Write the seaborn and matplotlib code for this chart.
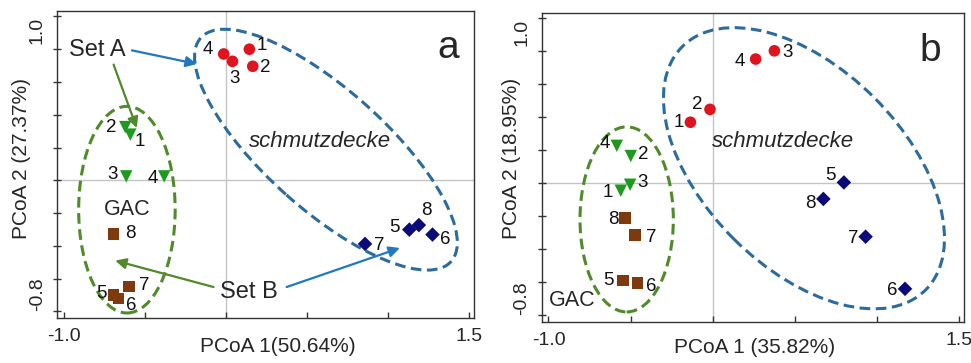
import matplotlib
matplotlib.use("Agg")
import numpy as np
import pandas as pd
import matplotlib.pyplot as plt
import seaborn as sns
from matplotlib.patches import Ellipse
from matplotlib.ticker import FixedLocator

sns.set_theme(style="white")
plt.rcParams["font.family"] = ["Liberation Sans", "DejaVu Sans"]

# ---------------- data: panel a ----------------
a_sdA_lbl = ["1", "2", "3", "4"]
a_sdA_x = [0.145, 0.166, 0.041, -0.013]
a_sdA_y = [0.800, 0.696, 0.726, 0.771]

a_gacA_lbl = ["1", "2", "3", "4"]
a_gacA_x = [-0.589, -0.620, -0.614, -0.380]
a_gacA_y = [0.279, 0.325, 0.024, 0.024]

a_gacB_lbl = ["5", "6", "7", "8"]
a_gacB_x = [-0.692, -0.661, -0.596, -0.692]
a_gacB_y = [-0.698, -0.722, -0.647, -0.327]

a_sdB_lbl = ["5", "6", "7", "8"]
a_sdB_x = [1.131, 1.274, 0.858, 1.190]
a_sdB_y = [-0.301, -0.331, -0.388, -0.273]

# ---------------- data: panel b ----------------
b_sdA_lbl = ["1", "2", "3", "4"]
b_sdA_x = [-0.136, -0.017, 0.375, 0.261]
b_sdA_y = [0.371, 0.449, 0.804, 0.754]

b_gacA_lbl = ["1", "2", "3", "4"]
b_gacA_x = [-0.560, -0.499, -0.503, -0.584]
b_gacA_y = [-0.044, 0.166, -0.008, 0.228]

b_gacB_lbl = ["5", "6", "7", "8"]
b_gacB_x = [-0.548, -0.457, -0.473, -0.534]
b_gacB_y = [-0.589, -0.603, -0.313, -0.208]

b_sdB_lbl = ["5", "6", "7", "8"]
b_sdB_x = [0.798, 1.170, 0.930, 0.673]
b_sdB_y = [0.006, -0.639, -0.323, -0.094]

x_tick_labels = ["-1.0", "1.5"]
y_tick_labels = ["-0.8", "1.0"]
a_xlabel = "PCoA 1(50.64%)"
a_ylabel = "PCoA 2 (27.37%)"
b_xlabel = "PCoA 1 (35.82%)"
b_ylabel = "PCoA 2 (18.95%)"

# ---------------- styles ----------------
groups = ["sdA", "gacA", "gacB", "sdB"]
palette = {"sdA": "#E0141E", "gacA": "#1E9A1E", "gacB": "#7E3A0E", "sdB": "#0A0A78"}
markers = {"sdA": "o", "gacA": "v", "gacB": "s", "sdB": "D"}
sizes = {"sdA": 70, "gacA": 80, "gacB": 70, "sdB": 55}
BLUE_EL = "#2C6BA0"
GREEN_EL = "#4F8A2B"
BLUE_AR = "#1F78C4"
GREEN_AR = "#4F8A2B"

# label offsets (pixels) per panel/group/label
a_offsets = {
    ("sdA", "1"): (12, 4), ("sdA", "2"): (12, -1), ("sdA", "3"): (2, -17), ("sdA", "4"): (-16, 4),
    ("gacA", "1"): (10, -7), ("gacA", "2"): (-14, 0), ("gacA", "3"): (-14, 2), ("gacA", "4"): (-11, -2),
    ("gacB", "5"): (-12, 1), ("gacB", "6"): (13, -7), ("gacB", "7"): (15, 1), ("gacB", "8"): (17, 0),
    ("sdB", "5"): (-15, 2), ("sdB", "6"): (13, -5), ("sdB", "7"): (14, -2), ("sdB", "8"): (8, 15),
}
b_offsets = {
    ("sdA", "1"): (-12, 0), ("sdA", "2"): (-13, 5), ("sdA", "3"): (13, -2), ("sdA", "4"): (-16, -2),
    ("gacA", "1"): (-13, -2), ("gacA", "2"): (12, 2), ("gacA", "3"): (12, 2), ("gacA", "4"): (-12, 2),
    ("gacB", "5"): (-14, 0), ("gacB", "6"): (14, -4), ("gacB", "7"): (16, -2), ("gacB", "8"): (-12, -2),
    ("sdB", "5"): (-13, 7), ("sdB", "6"): (-13, -2), ("sdB", "7"): (-12, -2), ("sdB", "8"): (-13, -5),
}


def make_df(sdA, gacA, gacB, sdB):
    rows = []
    for g, (lbl, xs, ys) in zip(groups, [sdA, gacA, gacB, sdB]):
        for l, x, y in zip(lbl, xs, ys):
            rows.append({"group": g, "label": l, "x": x, "y": y})
    return pd.DataFrame(rows)


df_a = make_df((a_sdA_lbl, a_sdA_x, a_sdA_y), (a_gacA_lbl, a_gacA_x, a_gacA_y),
               (a_gacB_lbl, a_gacB_x, a_gacB_y), (a_sdB_lbl, a_sdB_x, a_sdB_y))
df_b = make_df((b_sdA_lbl, b_sdA_x, b_sdA_y), (b_gacA_lbl, b_gacA_x, b_gacA_y),
               (b_gacB_lbl, b_gacB_x, b_gacB_y), (b_sdB_lbl, b_sdB_x, b_sdB_y))

fig = plt.figure(figsize=(9.71, 3.63), dpi=100)
ax_a = fig.add_axes([0.0587, 0.124, 0.4293, 0.8465])
ax_b = fig.add_axes([0.5579, 0.113, 0.4349, 0.852])


def style_axes(ax, df, offsets, xlabel, ylabel, xlab_pos, ylab_pos):
    ax.axhline(0, color="#c4c4c4", lw=1.0, zorder=0)
    ax.axvline(0, color="#c4c4c4", lw=1.0, zorder=0)
    for g in groups:
        sub = df[df.group == g]
        sns.scatterplot(data=sub, x="x", y="y", ax=ax, color=palette[g], marker=markers[g],
                        s=sizes[g], edgecolor="none", legend=False, zorder=3)
    for _, r in df.iterrows():
        dx, dy = offsets[(r.group, r.label)]
        ax.annotate(r.label, (r.x, r.y), xytext=(dx, dy), textcoords="offset pixels",
                    ha="center", va="center", fontsize=13.5, color="#111111", zorder=4)
    ax.set_xlim(-1.041, 1.529)
    ax.set_ylim(-0.84, 1.035)
    ax.xaxis.set_major_locator(FixedLocator([-1.0, 1.5]))
    ax.xaxis.set_minor_locator(FixedLocator([-0.5, 0.0, 0.5, 1.0]))
    ax.yaxis.set_major_locator(FixedLocator([-0.8, 1.0]))
    ax.yaxis.set_minor_locator(FixedLocator([-0.6, -0.4, -0.2, 0.0, 0.2, 0.4, 0.6, 0.8]))
    ax.set_xticklabels(x_tick_labels)
    ax.set_yticklabels(y_tick_labels, rotation=90)
    for lab, va in zip(ax.get_yticklabels(), ["bottom", "top"]):
        lab.set_va(va)
    ax.tick_params(axis="x", which="both", direction="in", length=4, width=1, color="#333333",
                   labelsize=14, pad=7, bottom=True)
    ax.tick_params(axis="y", which="both", direction="inout", length=6, width=1, color="#333333",
                   labelsize=14, pad=5, left=True)
    for s in ax.spines.values():
        s.set_color("#333333")
        s.set_linewidth(1.0)
    ax.set_xlabel(xlabel, fontsize=15, va="center")
    ax.set_ylabel(ylabel, fontsize=15, va="center")
    ax.xaxis.set_label_coords(xlab_pos[0], xlab_pos[1])
    ax.yaxis.set_label_coords(ylab_pos[0], ylab_pos[1])


style_axes(ax_a, df_a, a_offsets, a_xlabel, a_ylabel, (0.53, -0.094), (-0.084, 0.518))
style_axes(ax_b, df_b, b_offsets, b_xlabel, b_ylabel, (0.505, -0.081), (-0.071, 0.53))

# ---------------- panel a annotations ----------------
ax_a.add_patch(Ellipse((-0.610, -0.179), 0.595, 1.261, angle=0, fill=False,
                       ec=GREEN_EL, lw=2.2, ls=(0, (3.5, 1.8)), zorder=2))
ax_a.add_patch(Ellipse((0.617, 0.187), 2.06, 0.736, angle=-41.4, fill=False,
                       ec=BLUE_EL, lw=2.2, ls=(0, (3.5, 1.8)), zorder=2))
ax_a.text(1.371, 0.807, "a", fontsize=28, ha="center", va="center")
ax_a.text(0.58, 0.238, "schmutzdecke", fontsize=16, style="italic", ha="center", va="center")
ax_a.text(-0.606, -0.175, "GAC", fontsize=15.5, ha="center", va="center")
ax_a.text(-0.795, 0.797, "Set A", fontsize=17, ha="center", va="center")
ax_a.text(0.139, -0.683, "Set B", fontsize=17, ha="center", va="center")
arrow_kw = dict(arrowstyle="-|>", lw=1.6, mutation_scale=16, shrinkA=0, shrinkB=0)
ax_a.annotate("", xy=(-0.179, 0.71), xytext=(-0.579, 0.793),
              arrowprops=dict(color=BLUE_AR, **arrow_kw))
ax_a.annotate("", xy=(-0.549, 0.319), xytext=(-0.692, 0.706),
              arrowprops=dict(color=GREEN_AR, **arrow_kw))
ax_a.annotate("", xy=(-0.682, -0.490), xytext=(-0.076, -0.651),
              arrowprops=dict(color=GREEN_AR, **arrow_kw))
ax_a.annotate("", xy=(1.073, -0.413), xytext=(0.375, -0.651),
              arrowprops=dict(color=BLUE_AR, **arrow_kw))

# ---------------- panel b annotations ----------------
ax_b.add_patch(Ellipse((-0.524, -0.218), 0.568, 1.122, angle=0, fill=False,
                       ec=GREEN_EL, lw=2.2, ls=(0, (3.5, 1.8)), zorder=2))
ax_b.add_patch(Ellipse((0.555, 0.092), 2.09, 1.21, angle=-44.8, fill=False,
                       ec=BLUE_EL, lw=2.2, ls=(0, (3.5, 1.8)), zorder=2))
ax_b.text(1.326, 0.804, "b", fontsize=28, ha="center", va="center")
ax_b.text(0.429, 0.253, "schmutzdecke", fontsize=16, style="italic", ha="center", va="center")
ax_b.text(-0.858, -0.709, "GAC", fontsize=15.5, ha="center", va="center")

fig.savefig("out.png", dpi=100)
